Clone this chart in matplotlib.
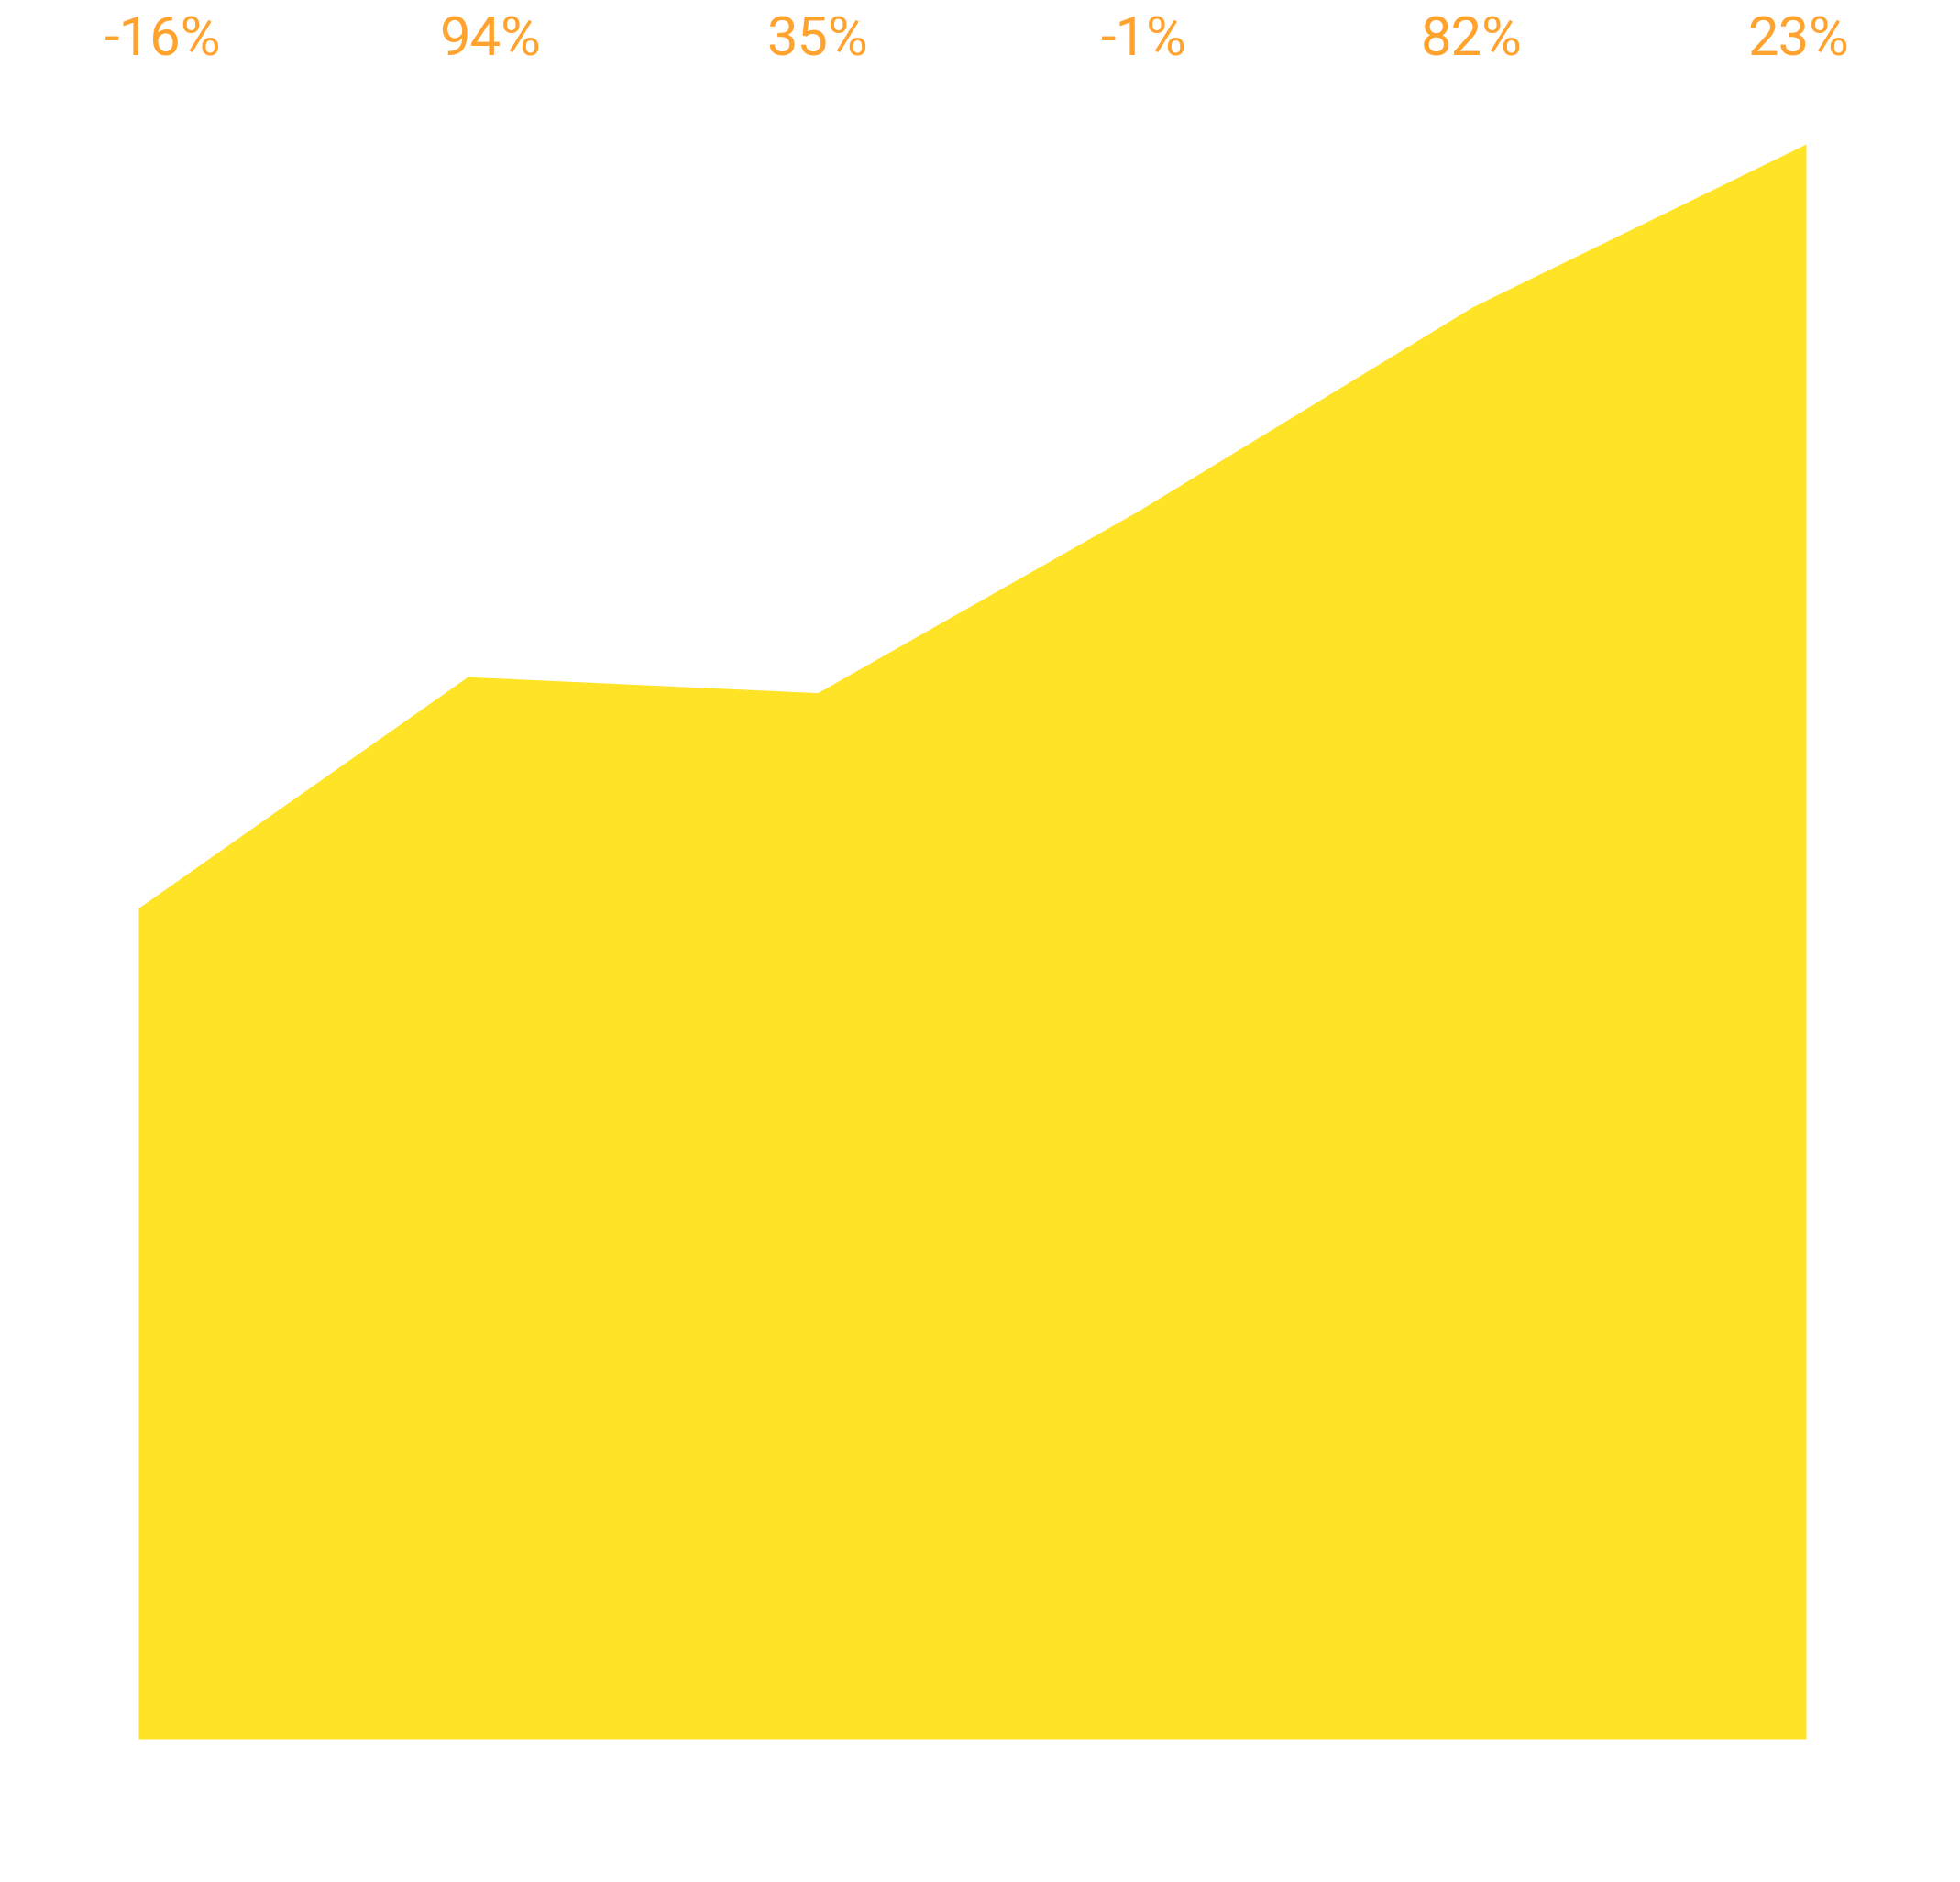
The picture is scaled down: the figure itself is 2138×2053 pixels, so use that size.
import matplotlib
matplotlib.use("Agg")
import matplotlib.pyplot as plt

# area values (relative height, top point = 100)
x_pos = [0, 0.987, 2.037, 2.998, 4.001, 5.0]
values = [52.1, 66.6, 65.6, 77.0, 89.8, 100.0]

# percentage labels across the top
labels = ['-16%', '94%', '35%', '-1%', '82%', '23%']
label_x = [0.074, 1.055, 2.037, 3.015, 3.996, 4.976]

fig = plt.figure(figsize=(21.38, 20.53), dpi=100)
ax = fig.add_axes([0.0706, 0.0760, 0.8508, 0.8475])

ax.fill_between(x_pos, 0, values, color='#FFE327', linewidth=0)
ax.set_xlim(0, 5)
ax.set_ylim(0, 100)
ax.axis('off')

# labels sit in the top margin, above the axes
label_y = 1.0 + (157 - 44) / 1740
for lx, lab in zip(label_x, labels):
    ax.text(lx, label_y, lab, transform=ax.get_xaxis_transform(),
            ha='center', va='center', color='#FFA32E', fontsize=43,
            family=['Roboto', 'DejaVu Sans'])

fig.savefig('out.png', dpi=100)
